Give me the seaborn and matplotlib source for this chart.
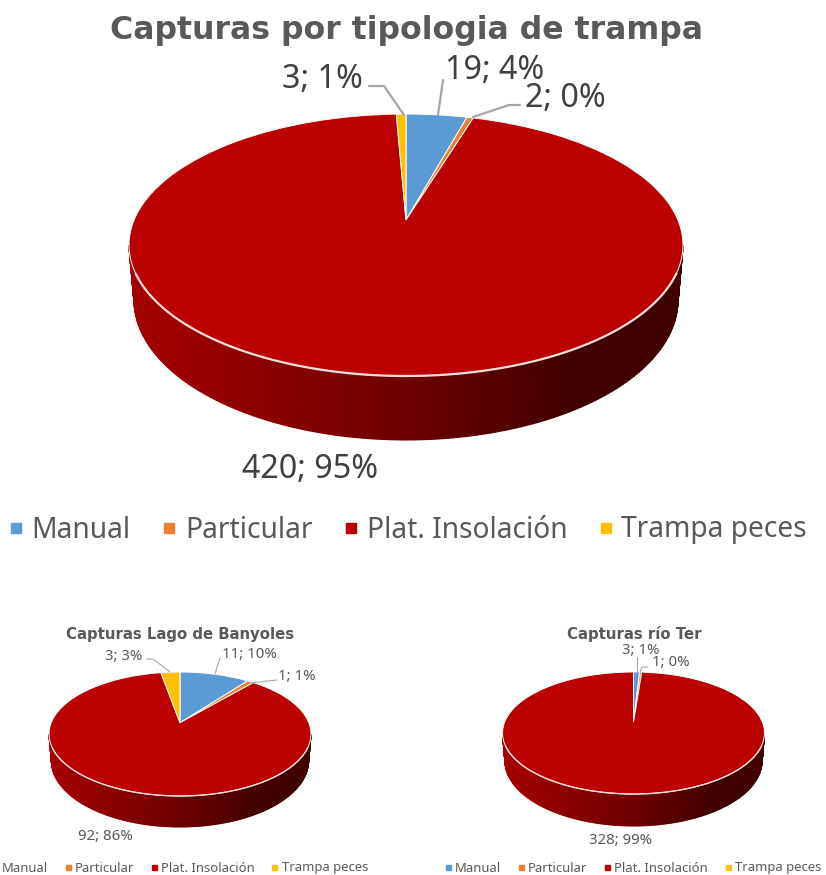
import numpy as np
import matplotlib
matplotlib.use("Agg")
import matplotlib.pyplot as plt
from matplotlib.colors import LinearSegmentedColormap
from matplotlib.lines import Line2D
from matplotlib.transforms import Transform
import seaborn as sns

# ---- data ----
categories = ["Manual", "Particular", "Plat. Insolación", "Trampa peces"]
total_values = [19, 2, 420, 3]
banyoles_values = [11, 1, 92, 3]
ter_values = [3, 1, 328, 0]
titles = ["Capturas por tipologia de trampa", "Capturas Lago de Banyoles", "Capturas río Ter"]

colors = sns.color_palette(["#5B9BD5", "#ED7D31", "#BB0000", "#FFC000"])
TEXT = "#595959"
LABEL = "#404040"
LEAD = "#A6A6A6"

sns.set_theme(style="white")
plt.rcParams["font.family"] = ["Noto Sans", "DejaVu Sans"]

W, H = 826, 875
fig = plt.figure(figsize=(W / 100, H / 100), dpi=100, facecolor="white")
wall_cmap = LinearSegmentedColormap.from_list(
    "wall", [(0, "#A60000"), (0.5, "#6E0000"), (0.8, "#420000"), (1, "#400000")])


class Tilt(Transform):
    """Perspective view of the unit disc; the disc centre lands on the origin."""
    input_dims = output_dims = 2
    is_affine = False
    has_inverse = False

    def __init__(self, a, b, k):
        super().__init__()
        self.a, self.b, self.k = a, b, k

    def transform_non_affine(self, xy):
        xy = np.asarray(xy, float)
        d = 1 + self.k * xy[:, 1]
        return np.column_stack([self.a * xy[:, 0] / d, self.b * xy[:, 1] / d])


def draw_pie(values, apex, half_w, top, bottom, floor, title, title_xy, title_fs,
             labels, leaders, label_fs, lead_lw, legend_xy, legend_fs, legend_kw):
    ax = fig.add_axes([0, 0, 1, 1], facecolor="none")
    ax_x, ax_y = apex
    to = lambda p: (p[0] - ax_x, ax_y - p[1])

    # geometry of the tilted disc
    up, down = ax_y - top, bottom - ax_y
    r = up / down
    k = (1 - r) / (1 + r)
    b = up * (1 + k)
    a = half_w * np.sqrt(1 - k * k)
    cy = (bottom + top) / 2 - ax_y          # screen y of the ellipse centre
    B = (bottom - top) / 2
    scale = half_w / 277.0
    A2 = half_w - 5 * scale
    B2 = B + 9 * scale
    drop = (floor - ax_y) - cy - B2

    # side wall
    phi = np.linspace(np.pi, 2 * np.pi, 181)
    xt = half_w * np.cos(phi)
    yt = -cy + B * np.sin(phi)
    xb = A2 * np.cos(phi)
    yb = -cy - drop + B2 * np.sin(phi)
    X = np.vstack([xt, xb])
    Y = np.vstack([yt, yb])
    C = np.vstack([(xt + half_w) / (2 * half_w)] * 2)
    ax.pcolormesh(X, Y, C, cmap=wall_cmap, shading="gouraud", vmin=0, vmax=1, zorder=1)

    # top face
    vals = np.array(values, float)
    keep = vals > 0
    wedges, _ = ax.pie(vals[keep], colors=[c for c, f in zip(colors, keep) if f],
                       startangle=90, counterclock=False, radius=1, frame=False,
                       wedgeprops=dict(edgecolor="white", linewidth=0.7))
    tilt = Tilt(a, b, k)
    for w in wedges:
        w.set_transform(tilt + ax.transData)
        w.set_zorder(2)
    # rim highlight
    rim = np.linspace(np.pi * 1.07, np.pi * 1.93, 120)
    ax.plot(half_w * np.cos(rim), -cy + B * np.sin(rim), color="#F4DCDC",
            lw=1.6 * max(scale, 0.6), zorder=3, solid_capstyle="round")

    ax.set_aspect("equal")
    ax.set_xlim(-ax_x, W - ax_x)
    ax.set_ylim(ax_y - H, ax_y)
    ax.axis("off")

    ax.text(*to(title_xy), title, fontsize=title_fs, fontweight="bold", color=TEXT,
            ha="center", va="center", family="DejaVu Sans")
    for (txt, p, ha) in labels:
        ax.text(*to(p), txt, fontsize=label_fs, color=LABEL if scale > 0.6 else TEXT,
                ha=ha, va="center")
    for path in leaders:
        pts = np.array([to(p) for p in path])
        ax.plot(pts[:, 0], pts[:, 1], color=LEAD, lw=lead_lw, zorder=4)

    handles = [Line2D([], [], marker="s", ls="none", color=c,
                      markersize=legend_kw["ms"]) for c in colors]
    ax.legend(handles, categories, loc="center left", ncol=4, frameon=False,
              bbox_to_anchor=(legend_xy[0] / W, 1 - legend_xy[1] / H),
              bbox_transform=fig.transFigure, fontsize=legend_fs,
              labelcolor=TEXT, borderpad=0, borderaxespad=0,
              handlelength=legend_kw["hl"], handletextpad=legend_kw["pad"],
              columnspacing=legend_kw["cs"])


def pct_labels(values):
    s = sum(values)
    return [f"{v}; {round(100 * v / s)}%" for v in values]


t = pct_labels(total_values)
draw_pie(total_values, (406, 220), 277, 114, 376, 440, titles[0], (406, 31), 22.7,
         [(t[0], (445, 71), "left"), (t[1], (525, 99), "left"),
          (t[2], (242, 470), "left"), (t[3], (282, 80), "left")],
         [[(443, 80), (438, 115)], [(520, 105), (509, 105), (473, 117)],
          [(369, 86), (384, 86), (404, 115)]],
         23.2, 1.6, (12, 530), 20.3, dict(ms=7.2, hl=0.3, pad=0.4, cs=1.22))

t = pct_labels(banyoles_values)
draw_pie(banyoles_values, (180, 722.7), 131, 672, 796, 827, titles[1], (180, 634), 10.75,
         [(t[0], (222, 654), "left"), (t[1], (278, 677), "left"),
          (t[2], (78, 837), "left"), (t[3], (105, 656), "left")],
         [[(220, 658), (215, 674)], [(277, 680), (250, 683)],
          [(147, 659), (153, 659), (170, 672)]],
         10.8, 0.8, (-7, 868), 9.4, dict(ms=3.6, hl=0.3, pad=0.4, cs=1.35))

t = pct_labels(ter_values)
draw_pie(ter_values, (633.5, 722), 131, 672, 794, 826, titles[2], (634, 634), 10.75,
         [(t[0], (622, 651), "left"), (t[1], (652, 663), "left"),
          (t[2], (589, 840), "left")],
         [[(637, 657), (637, 672)], [(648, 667), (642, 667), (640, 672)]],
         10.8, 0.8, (446, 868), 9.4, dict(ms=3.6, hl=0.3, pad=0.4, cs=1.35))

fig.savefig("out.png", dpi=100)
